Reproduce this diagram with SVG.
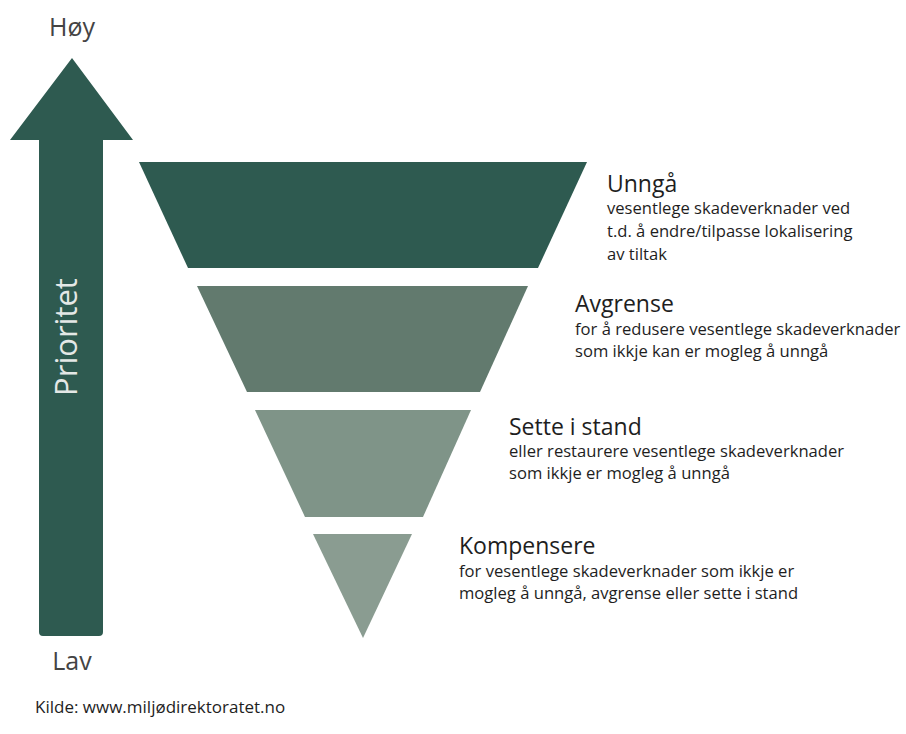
<svg xmlns="http://www.w3.org/2000/svg" width="906" height="734" viewBox="0 0 906 734">
<style>
.t{font-family:"Open Sans","Liberation Sans",sans-serif;fill:#1e1e1e}
.h{font-size:23px}
.b{font-size:16.6px}
.lbl{font-family:"Open Sans","Liberation Sans",sans-serif;font-size:25px;fill:#444}
</style>
<rect width="906" height="734" fill="#fff"/>
<g id="arrow">
<path d="M72 58 L133 140 L103 140 L103 632 Q103 636 99 636 L43 636 Q39 636 39 632 L39 140 L10 140 Z" fill="#2e5a50"/>
<text x="0" y="0" transform="translate(77 337) rotate(-90)" text-anchor="middle" font-family="Open Sans, Liberation Sans, sans-serif" font-size="31" fill="#e4e8e6">Prioritet</text>
</g>
<text class="lbl" x="72" y="36" text-anchor="middle">Høy</text>
<text class="lbl" x="72" y="670" text-anchor="middle">Lav</text>
<g id="unnga">
<polygon points="139,162 587,162 538,268 188,268" fill="#2e5a50"/>
<text class="t h" x="607" y="192">Unngå</text>
<text class="t b" x="607" y="214">vesentlege skadeverknader ved</text>
<text class="t b" x="607" y="237">t.d. å endre/tilpasse lokalisering</text>
<text class="t b" x="607" y="260">av tiltak</text>
</g>
<g id="avgrense">
<polygon points="197,286 528,286 480,392 247,392" fill="#627a6e"/>
<text class="t h" x="575" y="312">Avgrense</text>
<text class="t b" x="575" y="335">for å redusere vesentlege skadeverknader</text>
<text class="t b" x="575" y="357">som ikkje kan er mogleg å unngå</text>
</g>
<g id="sette">
<polygon points="255,410 471,410 423,517 305,517" fill="#7f9488"/>
<text class="t h" x="509" y="435">Sette i stand</text>
<text class="t b" x="509" y="457">eller restaurere vesentlege skadeverknader</text>
<text class="t b" x="509" y="479">som ikkje er mogleg å unngå</text>
</g>
<g id="kompensere">
<polygon points="313,534 412,534 363,638" fill="#8a9c91"/>
<text class="t h" x="459" y="554">Kompensere</text>
<text class="t b" x="459" y="577">for vesentlege skadeverknader som ikkje er</text>
<text class="t b" x="459" y="599">mogleg å unngå, avgrense eller sette i stand</text>
</g>
<text class="t" x="35" y="713" font-size="17" fill="#222">Kilde: www.miljødirektoratet.no</text>
</svg>
